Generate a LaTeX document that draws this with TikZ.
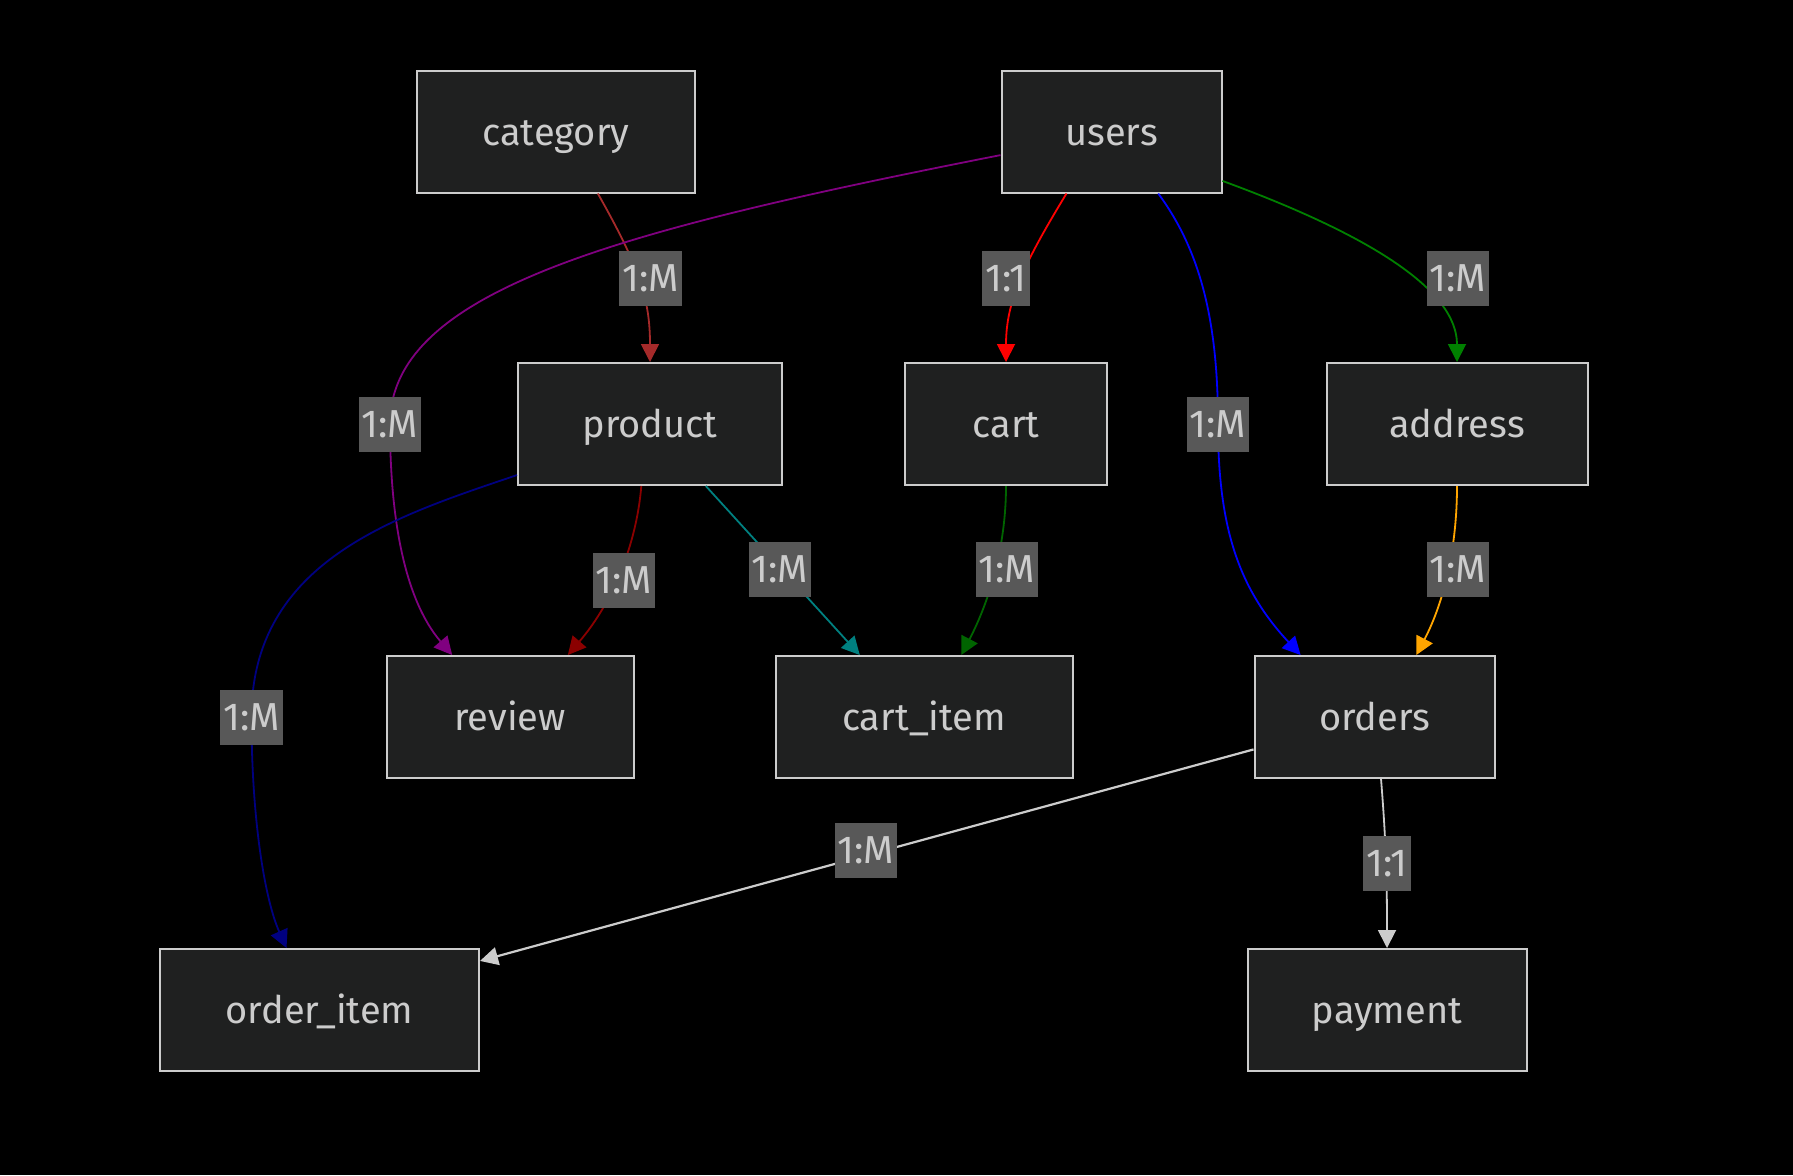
\documentclass[tikz,border=0pt]{standalone}
\usepackage{fontspec}
\setmainfont{Fira Sans}
\usetikzlibrary{arrows.meta}

\definecolor{boxfill}{HTML}{1F2020}
\definecolor{boxline}{HTML}{CCCCCC}
\definecolor{cardfill}{HTML}{585858}
\definecolor{linkbrown}{HTML}{A52A2A}
\definecolor{linkred}{HTML}{FF0000}
\definecolor{linkgreen}{HTML}{008000}
\definecolor{linkpurple}{HTML}{800080}
\definecolor{linkblue}{HTML}{0000FF}
\definecolor{linkdarkred}{HTML}{8B0000}
\definecolor{linkteal}{HTML}{008080}
\definecolor{linkdarkgreen}{HTML}{006400}
\definecolor{linkorange}{HTML}{FFA500}
\definecolor{linknavy}{HTML}{000080}

\begin{document}
\begin{tikzpicture}[x=0.5pt,y=-0.5pt,
    entity/.style={draw=boxline, line width=1pt, fill=boxfill, text=boxline,
      minimum height=61pt, inner sep=0pt, text height=16.2pt, text depth=2.4pt,
      font=\fontsize{19}{23}\selectfont},
    card/.style={fill=cardfill, text=boxline, minimum height=27.5pt,
      inner xsep=1.5pt, inner ysep=0pt, text height=16.2pt, text depth=2.4pt,
      font=\fontsize{19.5}{23}\selectfont},
    rel/.style={line width=0.9pt, -{Triangle[length=9pt,width=9pt]}}]

    % Background and frame of the picture
    \useasboundingbox (0,0) rectangle (1793,1175);
    \fill[black] (0,0) rectangle (1793,1175);

    % Define the coordinates of the labels on the bent links
    \coordinate (m4) at (390,424);
    \coordinate (m5) at (1218,424);
    \coordinate (m10) at (251.5,717);

    % Draw the tables
    \node[entity, minimum width=139pt] (category) at (556,131.5) {category};
    \node[entity, minimum width=110pt] (users) at (1111.5,131.5) {users};
    \node[entity, minimum width=132pt] (product) at (650,424) {product};
    \node[entity, minimum width=101pt] (cart) at (1006,424) {cart};
    \node[entity, minimum width=130.5pt] (address) at (1457,424) {address};
    \node[entity, minimum width=123.5pt] (review) at (510,717) {review};
    \node[entity, minimum width=148.5pt] (cartitem) at (924,717) {cart\_item};
    \node[entity, minimum width=120pt] (orders) at (1374.5,717) {orders};
    \node[entity, minimum width=159.5pt] (orderitem) at (319.5,1010) {order\_item};
    \node[entity, minimum width=139.5pt] (payment) at (1387,1010) {payment};

    % Draw the links between the tables
    \draw[rel, color=linkbrown] (category.-56) .. controls (640,268) and (650,300) .. (product.north);
    \draw[rel, color=linkred] (users.-126) .. controls (1025,262) and (1006,300) .. (cart.north);
    \draw[rel, color=linkgreen] (users.-24) .. controls (1370,235) and (1457,290) .. (address.north);
    \draw[rel, color=linkpurple] (users.192) .. controls (620,230) and (390,290) .. (m4)
        .. controls (390,520) and (405,600) .. (review.133);
    \draw[rel, color=linkblue] (users.-53) .. controls (1200,250) and (1218,320) .. (m5)
        .. controls (1218,530) and (1240,590) .. (orders.140);
    \draw[rel, color=linkdarkred] (product.-98) .. controls (637,540) and (615,600) .. (review.47);
    \draw[rel, color=linkteal] (product.-48.5) -- (cartitem.136.4);
    \draw[rel, color=linkdarkgreen] (cart.south) .. controls (1006,545) and (990,600) .. (cartitem.59);
    \draw[rel, color=linkorange] (address.south) .. controls (1457,545) and (1445,600) .. (orders.56);
    \draw[rel, color=linknavy] (product.201) .. controls (398,515.5) and (251.5,560) .. (m10)
        .. controls (251.5,820) and (265,900) .. (orderitem.118);
    \draw[rel, color=boxline, line width=1.1pt] (orders.195) -- (orderitem.17);
    \draw[rel, color=boxline] (orders.-84) .. controls (1386,840) and (1387,880) .. (payment.north);

    % Label the links
    \node[card] (c1) at (650.5,278) {1:M};
    \node[card] (c2) at (1006,278) {1:1};
    \node[card] (c3) at (1458,278) {1:M};
    \node[card] (c4) at (m4) {1:M};
    \node[card] (c5) at (m5) {1:M};
    \node[card] (c6) at (624,580) {1:M};
    \node[card] (c7) at (780,569) {1:M};
    \node[card] (c8) at (1007,569) {1:M};
    \node[card] (c9) at (1458,569) {1:M};
    \node[card] (c10) at (m10) {1:M};
    \node[card] (c11) at (866,850) {1:M};
    \node[card] (c12) at (1387,863) {1:1};

\end{tikzpicture}
\end{document}
